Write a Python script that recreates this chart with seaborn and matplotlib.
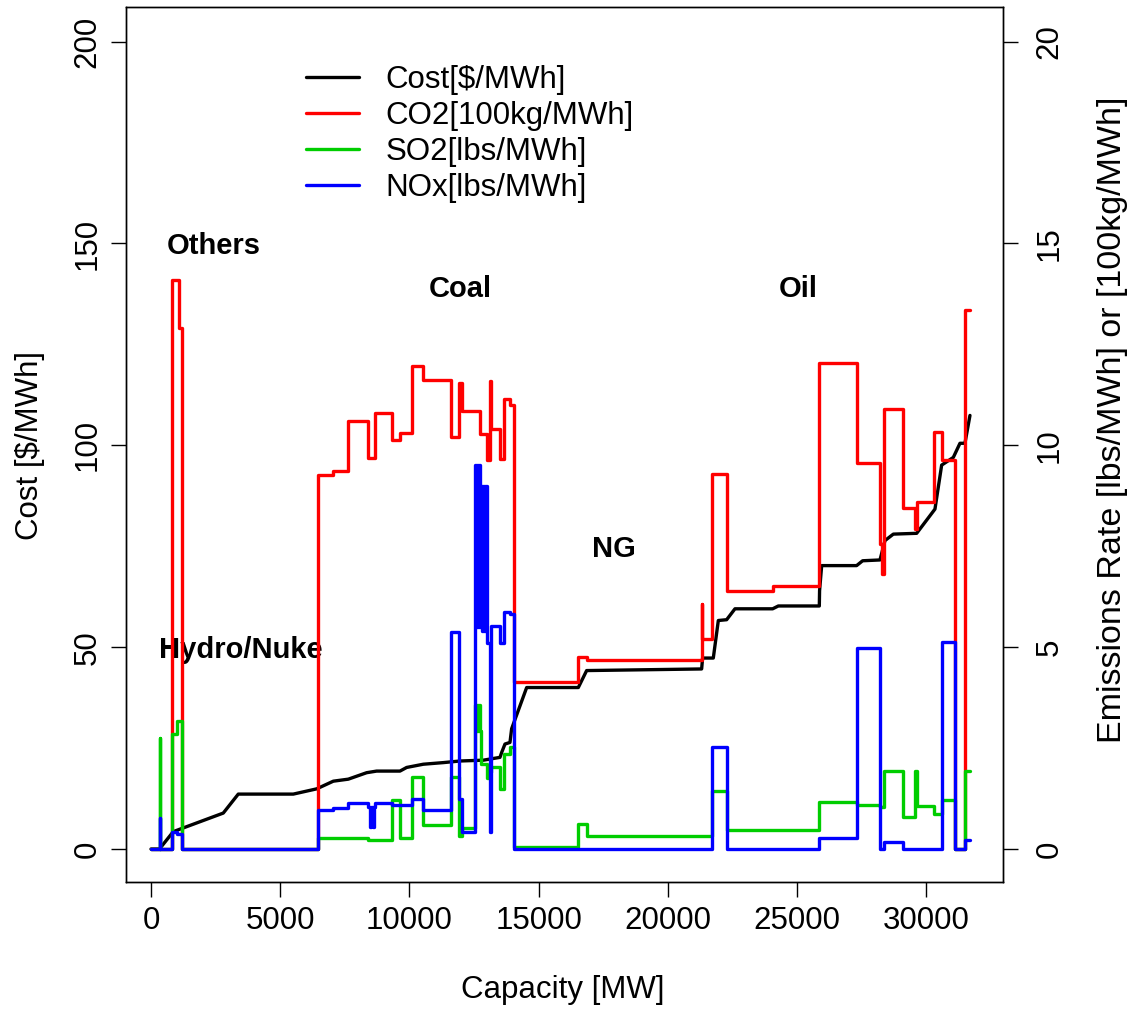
import matplotlib
matplotlib.use("Agg")
import matplotlib.pyplot as plt
import seaborn as sns
import numpy as np

# ---------------- data ----------------
# cumulative capacity [MW] where each unit (step) starts; last value = end of stack
unit_start_mw = [0, 348, 365, 800, 1001, 1096, 1187, 6472, 7053, 7633,
                 8380, 8474, 8520, 8570, 8620, 8665, 9309, 9632, 10083, 10534,
                 11592, 11928, 12018, 12540, 12580, 12620, 12660, 12700, 12727, 12760,
                 12800, 12840, 12880, 12921, 12986, 13114, 13135, 13501, 13656, 13888,
                 14030, 16531, 16853, 21302, 21330, 21720, 22269, 24049, 25854, 27302,
                 28201, 28298, 28356, 29103, 29556, 29645, 30290, 30587, 31103, 31487,
                 31700]
co2_rate = [0, 0, 0, 14.1, 14.1, 12.9, 0, 9.27, 9.37, 10.59,
            9.69, 9.69, 9.69, 9.69, 9.69, 10.80, 10.13, 10.30, 11.97, 11.62,
            10.20, 11.55, 10.86, 10.86, 10.86, 10.86, 10.86, 10.86, 10.28, 10.28,
            10.28, 10.28, 10.28, 10.28, 9.64, 11.6, 10.40, 9.67, 11.15, 11.0,
            4.14, 4.75, 4.69, 6.07, 5.20, 9.3, 6.40, 6.52, 12.05, 9.56,
            7.55, 6.82, 10.91, 8.44, 7.93, 8.60, 10.34, 9.63, 0, 13.36]
so2_rate = [0, 2.74, 0, 2.84, 3.17, 3.17, 0, 0.27, 0.27, 0.27,
            0.22, 0.22, 0.22, 0.22, 0.22, 0.22, 1.21, 0.27, 1.78, 0.60,
            1.78, 0.31, 0.52, 3.56, 2.93, 3.56, 2.93, 3.56, 2.93, 2.10,
            2.10, 2.10, 2.10, 2.10, 1.77, 1.90, 2.02, 1.48, 2.35, 2.52,
            0.05, 0.61, 0.32, 0.32, 0.32, 1.43, 0.46, 0.46, 1.16, 1.10,
            1.05, 1.05, 1.92, 0.80, 1.92, 1.07, 0.87, 1.22, 0, 1.92]
nox_rate = [0, 0.77, 0, 0.43, 0.38, 0.38, 0, 0.975, 1.02, 1.14,
            1.05, 0.55, 1.05, 0.55, 1.05, 1.14, 1.10, 1.10, 1.25, 0.975,
            5.38, 1.23, 0.42, 9.5, 5.5, 9.5, 5.5, 9.5, 5.5, 9.0,
            5.4, 9.0, 5.4, 9.0, 5.1, 0.43, 5.52, 5.1, 5.87, 5.81,
            0, 0, 0, 0, 0, 2.52, 0, 0, 0.27, 4.97,
            0, 0, 0.18, 0, 0, 0, 0, 5.14, 0, 0.23]

# marginal cost curve
cost_mw = [0, 327, 862, 2796, 3376, 5505, 6410, 7053, 7633, 8342,
           8729, 9632, 9890, 10534, 11308, 11953, 12855, 13500, 13565, 13694,
           13887, 13952, 14533, 16531, 16853, 21302, 21338, 21753, 21947, 22269,
           22591, 24049, 24268, 25854, 25864, 25945, 27297, 27530, 28201, 28394,
           28717, 29620, 30328, 30587, 31038, 31295, 31488, 31682]
cost_val = [0, 0, 4.3, 8.9, 13.6, 13.6, 14.9, 16.8, 17.3, 18.9,
            19.3, 19.3, 20.2, 21.0, 21.4, 21.8, 22.0, 22.7, 23.9, 26.0,
            26.4, 29.8, 40.0, 40.0, 44.2, 44.6, 47.3, 47.3, 56.6, 56.8,
            59.5, 59.5, 60.2, 60.2, 64.0, 70.2, 70.2, 71.4, 71.6, 76.4,
            78.0, 78.2, 84.2, 95.1, 97.0, 100.5, 100.5, 107.4]

fuel_labels = ["Others", "Hydro/Nuke", "Coal", "NG", "Oil"]
fuel_label_mw = [2437, 3482, 11954, 17911, 25029]
fuel_label_cost = [149.4, 49.3, 138.7, 74.3, 138.7]

legend_labels = ["Cost[$/MWh]", "CO2[100kg/MWh]", "SO2[lbs/MWh]", "NOx[lbs/MWh]"]

# ---------------- style ----------------
sns.set_style("ticks")
plt.rcParams["font.family"] = ["Liberation Sans", "DejaVu Sans"]
plt.rcParams["text.color"] = "black"
plt.rcParams["axes.labelcolor"] = "black"
plt.rcParams["xtick.color"] = "black"
plt.rcParams["ytick.color"] = "black"
plt.rcParams["axes.edgecolor"] = "black"
FS = 22.5
LW = 2.4

fig = plt.figure(figsize=(11.35, 10.15), dpi=100)
ax = fig.add_axes([126 / 1135, 1 - 881.7 / 1015, (1003 - 126) / 1135, (881.7 - 7.3) / 1015])
ax2 = ax.twinx()

# cost line (left axis)
sns.lineplot(x=cost_mw, y=cost_val, ax=ax, color="black", lw=LW, sort=False,
             estimator=None, label=legend_labels[0], legend=False)

# emission step lines (right axis)
def step_y(vals):
    return list(vals) + [vals[-1]]

for vals, col, lab in [(co2_rate, "#FF0000", legend_labels[1]),
                       (so2_rate, "#00CD00", legend_labels[2]),
                       (nox_rate, "#0000FF", legend_labels[3])]:
    sns.lineplot(x=unit_start_mw, y=step_y(vals), ax=ax2, color=col, lw=LW,
                 drawstyle="steps-post", sort=False, estimator=None,
                 label=lab, legend=False)

ax.set_xlim(-967, 32960)
ax.set_ylim(-8.1, 208.5)
ax2.set_ylim(-0.81, 20.85)

ax.set_xticks([0, 5000, 10000, 15000, 20000, 25000, 30000])
ax.set_yticks([0, 50, 100, 150, 200])
ax2.set_yticks([0, 5, 10, 15, 20])

for a in (ax, ax2):
    for s in a.spines.values():
        s.set_visible(True)
        s.set_linewidth(1.0)
        s.set_color("black")
    a.tick_params(direction="out", length=10.8, width=1.0, labelsize=FS,
                  colors="black", labelcolor="black")
    a.grid(False)

ax.tick_params(axis="x", pad=7)
ax.tick_params(axis="y", pad=6, labelrotation=90)
ax2.tick_params(axis="y", pad=12, labelrotation=90)
for lab in ax.get_yticklabels() + ax2.get_yticklabels():
    lab.set_va("center")

ax.set_xlabel("Capacity [MW]", fontsize=FS, color="black")
ax.set_ylabel("Cost [$/MWh]", fontsize=FS, color="black")
ax2.set_ylabel("Emissions Rate [lbs/MWh] or [100kg/MWh]", fontsize=24.5, color="black")
ax.xaxis.set_label_coords(563 / 1135, 1 - 990 / 1015, transform=fig.transFigure)
ax.xaxis.label.set_va("center")
ax.yaxis.set_label_coords(30 / 1135, 1 - 445 / 1015, transform=fig.transFigure)
ax.yaxis.label.set_va("center")
ax2.yaxis.set_label_coords(1112 / 1135, 1 - 420 / 1015, transform=fig.transFigure)
ax2.yaxis.label.set_va("center")
ax2.yaxis.label.set_rotation(90)

for t, xm, yc in zip(fuel_labels, fuel_label_mw, fuel_label_cost):
    ax.text(xm, yc, t, fontsize=21, fontweight="bold", ha="center", va="center",
            color="black", zorder=5)

handles = ax.get_lines()[:1] + ax2.get_lines()[:3]
leg = ax2.legend(handles, legend_labels, loc="upper left",
                 bbox_to_anchor=(306 / 1135, 1 - 65 / 1015), bbox_transform=fig.transFigure,
                 frameon=False, fontsize=FS, handlelength=1.7, handletextpad=0.85,
                 labelspacing=0.19, borderpad=0, borderaxespad=0)
for txt in leg.get_texts():
    txt.set_color("black")

fig.savefig("out.png", dpi=100)
